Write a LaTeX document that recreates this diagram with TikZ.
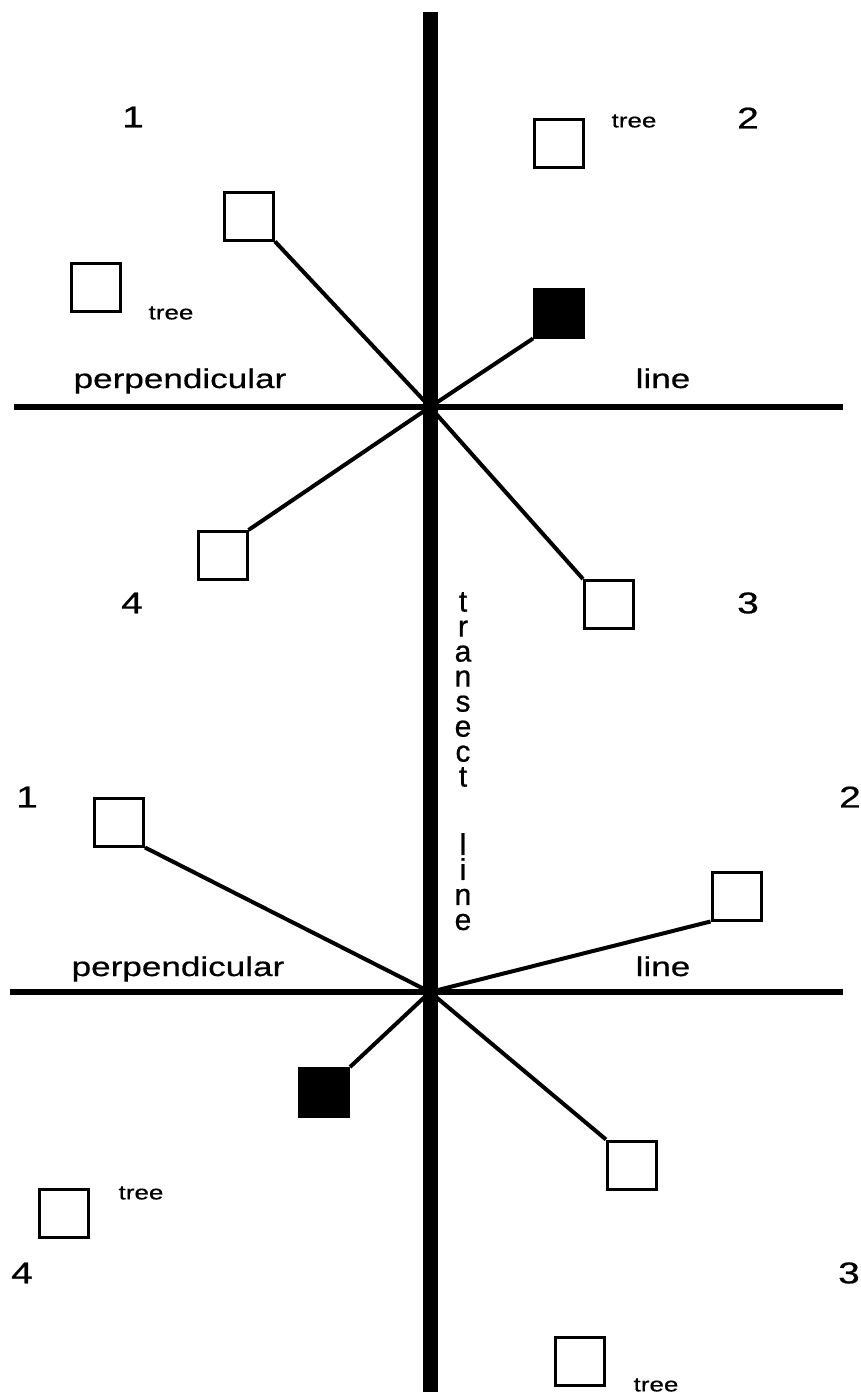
\documentclass[tikz,border=0pt]{standalone}
\usepackage{fontspec}
\setmainfont{Liberation Sans}
\newfontfamily\wfont[FakeStretch=1.3,FakeBold=0.6]{Liberation Sans}
\newfontfamily\vfont[FakeStretch=1.0,FakeBold=0.6]{Liberation Sans}
\begin{document}
\begin{tikzpicture}[x=1pt,y=-1pt,
 box/.style={draw, line width=3pt, fill=white, inner sep=0pt, minimum width=49pt, minimum height=48pt},
 filledbox/.style={box, fill=black},
 ray/.style={line width=4pt},
 axis/.style={line width=5.5pt},
 transect/.style={line width=15pt},
 digit/.style={font=\wfont\fontsize{30}{30}\selectfont, inner sep=0pt},
 treelbl/.style={font=\wfont\fontsize{20}{20}\selectfont, inner sep=0pt},
 axlbl/.style={font=\wfont\fontsize{27}{27}\selectfont, inner sep=0pt, anchor=base},
 vtext/.style={font=\vfont\fontsize{30}{25}\selectfont, align=center, inner sep=0pt, anchor=north},
]
\useasboundingbox (0,0) rectangle (861,1395);
\fill[white] (0,0) rectangle (861,1395);

% centres and line ends
\coordinate (c1) at (430,407);
\coordinate (c2) at (430,992);
\coordinate (h1l) at (14,407);
\coordinate (h1r) at (843,407);
\coordinate (h2l) at (10,992);
\coordinate (h2r) at (843,992);
\coordinate (vt) at (430,12);
\coordinate (vb) at (430,1392);

% boxes (top group)
\node[box] (A) at (249,216) {};
\node[box] (B) at (559,143.5) {};
\node[box] (C) at (95.5,287.5) {};
\node[filledbox] (D) at (559,313) {};
\node[box] (E) at (222.5,555.5) {};
\node[box] (F) at (609,604.5) {};
% boxes (bottom group)
\node[box] (G) at (119,822) {};
\node[box] (H) at (736.5,896) {};
\node[filledbox] (I) at (324,1092.5) {};
\node[box] (J) at (632,1165) {};
\node[box] (K) at (64,1213) {};
\node[box] (L) at (579.5,1361) {};

% rays
\draw[ray] (A.south east) -- (c1);
\draw[ray] (D.south west) -- (c1);
\draw[ray] (E.north east) -- (c1);
\draw[ray] (F.north west) -- (c1);
\draw[ray] (G.south east) -- (c2);
\draw[ray] (H.south west) -- (c2);
\draw[ray] (I.north east) -- (c2);
\draw[ray] (J.north west) -- (c2);

% perpendicular lines and transect
\draw[axis] (h1l) -- (h1r);
\draw[axis] (h2l) -- (h2r);
\draw[transect] (vt) -- (vb);

% quadrant numbers
\node[digit] (n1a) at (133,117) {1};
\node[digit] (n2a) at (748,118) {2};
\node[digit] (n4a) at (132,603) {4};
\node[digit] (n3a) at (748,603) {3};
\node[digit] (n1b) at (27,797) {1};
\node[digit] (n2b) at (850,797) {2};
\node[digit] (n4b) at (22,1273) {4};
\node[digit] (n3b) at (849,1273) {3};

% tree labels
\node[treelbl] (tB) at (634,121) {tree};
\node[treelbl] (tC) at (171,313) {tree};
\node[treelbl] (tK) at (141,1193) {tree};
\node[treelbl] (tL) at (656,1385) {tree};

% axis labels
\node[axlbl] (p1) at (180,388) {perpendicular};
\node[axlbl] (l1) at (663,388) {line};
\node[axlbl] (p2) at (178,976) {perpendicular};
\node[axlbl] (l2) at (663,976) {line};

% transect label
\node[vtext] (tr) at (463,592) {t\\r\\a\\n\\s\\e\\c\\t};
\node[vtext] (tl) at (463,833) {l\\i\\n\\e};
\end{tikzpicture}
\end{document}
